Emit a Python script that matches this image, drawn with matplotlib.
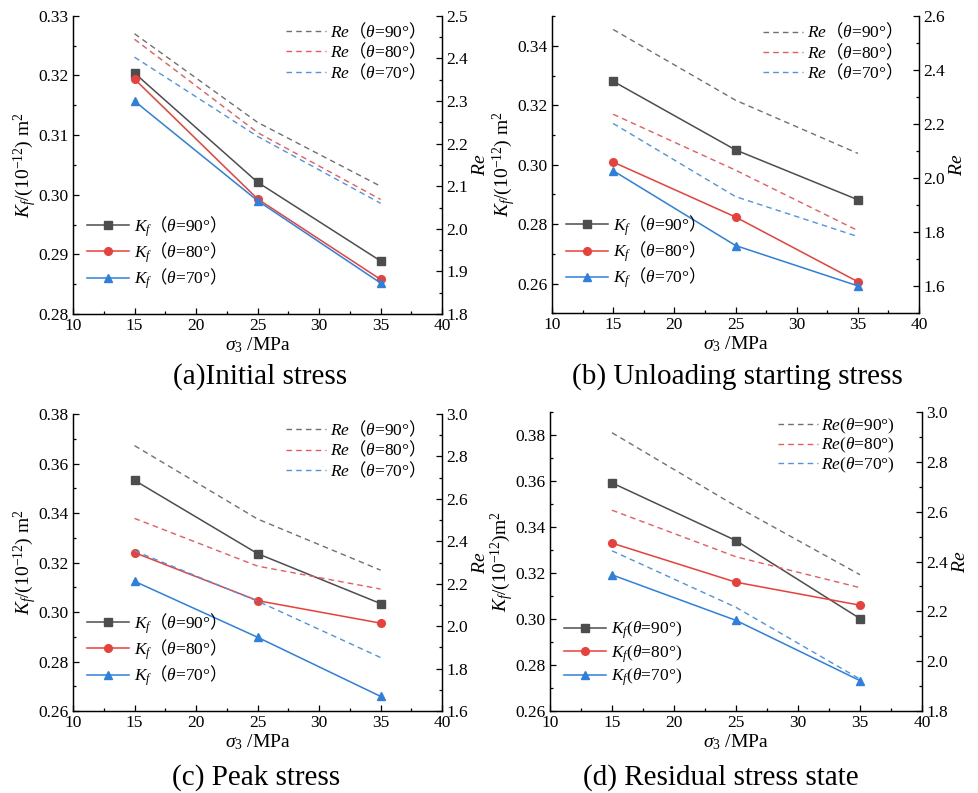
import matplotlib
matplotlib.use("Agg")
import matplotlib.pyplot as plt
from matplotlib.ticker import MultipleLocator, AutoMinorLocator, FormatStrFormatter

plt.rcParams['font.family'] = ['Liberation Serif', 'Noto Sans CJK SC']
plt.rcParams['mathtext.fontset'] = 'custom'
plt.rcParams['mathtext.rm'] = 'Liberation Serif'
plt.rcParams['mathtext.it'] = 'Liberation Serif:italic'
plt.rcParams['mathtext.sf'] = 'Noto Sans CJK SC'

# data: confining pressure and values for theta = 90, 80, 70 deg
sigma3 = [15, 25, 35]
angles = ['90', '80', '70']

kf_a = [[0.3204, 0.3021, 0.2889],
        [0.3194, 0.2993, 0.2858],
        [0.3157, 0.2990, 0.2852]]
re_a = [[2.458, 2.250, 2.100],
        [2.445, 2.226, 2.069],
        [2.403, 2.217, 2.060]]

kf_b = [[0.3281, 0.3050, 0.2882],
        [0.3009, 0.2824, 0.2606],
        [0.2980, 0.2728, 0.2592]]
re_b = [[2.551, 2.289, 2.092],
        [2.237, 2.030, 1.806],
        [2.203, 1.932, 1.784]]

kf_c = [[0.3532, 0.3236, 0.3034],
        [0.3240, 0.3046, 0.2955],
        [0.3124, 0.2898, 0.2659]]
re_c = [[2.851, 2.505, 2.264],
        [2.508, 2.283, 2.175],
        [2.355, 2.118, 1.852]]

kf_d = [[0.3592, 0.3341, 0.3002],
        [0.3330, 0.3160, 0.3060],
        [0.3192, 0.2994, 0.2732]]
re_d = [[2.917, 2.622, 2.347],
        [2.606, 2.419, 2.295],
        [2.443, 2.216, 1.928]]

titles = ['(a)Initial stress', '(b) Unloading starting stress',
          '(c) Peak stress', '(d) Residual stress state']

line_colors = ['#4d4d4d', '#e8403a', '#2f7fdc']
dash_colors = ['#707070', '#e65c5c', '#4f93e2']
markers = ['s', 'o', '^']


def style_axis(ax):
    ax.spines['top'].set_visible(False)
    ax.tick_params(which='both', direction='in', labelsize=12.5, top=False)
    ax.tick_params(which='major', length=4.5, width=0.9, pad=3)
    ax.tick_params(which='minor', length=2.5, width=0.9)
    ax.xaxis.set_minor_locator(AutoMinorLocator(2))
    ax.yaxis.set_minor_locator(AutoMinorLocator(2))
    for s in ax.spines.values():
        s.set_linewidth(0.9)


def panel(rect, kf, re, kf_lim, kf_step, re_lim, re_step, fullwidth=True):
    ax = fig.add_axes(rect)
    ax2 = ax.twinx()
    for i in range(3):
        if fullwidth:
            lab_k = r'$K_f\mathsf{（}\theta$=' + angles[i] + r'°$\mathsf{）}$'
            lab_r = r'$Re\mathsf{（}\theta$=' + angles[i] + r'°$\mathsf{）}$'
        else:
            lab_k = r'$K_f$($\theta$=' + angles[i] + '°)'
            lab_r = r'$Re$($\theta$=' + angles[i] + '°)'
        ax.plot(sigma3, kf[i], color=line_colors[i], marker=markers[i],
                markersize=5.5, linewidth=1.1, label=lab_k)
        ax2.plot(sigma3, re[i], color=dash_colors[i], linestyle=(0, (4, 3)),
                 linewidth=1.0, label=lab_r)

    ax.set_xlim(10, 40)
    ax.xaxis.set_major_locator(MultipleLocator(5))
    ax.set_ylim(*kf_lim)
    ax.yaxis.set_major_locator(MultipleLocator(kf_step))
    ax.yaxis.set_major_formatter(FormatStrFormatter('%.2f'))
    ax2.set_ylim(*re_lim)
    ax2.yaxis.set_major_locator(MultipleLocator(re_step))
    ax2.yaxis.set_major_formatter(FormatStrFormatter('%.1f'))
    style_axis(ax)
    style_axis(ax2)

    ax.set_xlabel(r'$\sigma_3$ /MPa', fontsize=14, labelpad=1)
    if fullwidth:
        ax.set_ylabel(r'$K_f/(10^{-12})\ \mathrm{m}^2$', fontsize=14, labelpad=0)
    else:
        ax.set_ylabel(r'$K_f/(10^{-12})\mathrm{m}^2$', fontsize=14, labelpad=0)
    ax2.set_ylabel(r'$Re$', fontsize=14, labelpad=3)

    ax.legend(loc='lower left', bbox_to_anchor=(0.0, 0.03), frameon=False,
              fontsize=12.5, handlelength=2.4, labelspacing=0.1,
              handletextpad=0.3, borderpad=0.3)
    ax2.legend(loc='upper right', bbox_to_anchor=(0.965, 1.03), frameon=False,
               fontsize=12.5, handlelength=2.3, labelspacing=0.0,
               handletextpad=0.2, borderpad=0.3)
    return ax


fig = plt.figure(figsize=(9.79, 7.93), dpi=100)

panel([0.0746, 0.604, 0.377, 0.376], kf_a, re_a, (0.28, 0.33), 0.01, (1.8, 2.5), 0.1)
panel([0.5638, 0.605, 0.375, 0.3745], kf_b, re_b, (0.25, 0.35), 0.02, (1.5, 2.6), 0.2)
panel([0.0746, 0.1034, 0.377, 0.3745], kf_c, re_c, (0.26, 0.38), 0.02, (1.6, 3.0), 0.2)
panel([0.5618, 0.1034, 0.380, 0.377], kf_d, re_d, (0.26, 0.39), 0.02, (1.8, 3.0), 0.2,
      fullwidth=False)

title_pos = [(0.266, 0.5246), (0.753, 0.5246), (0.262, 0.020), (0.736, 0.020)]
for (x, y), t in zip(title_pos, titles):
    fig.text(x, y, t, fontsize=21, ha='center', va='center')

fig.savefig('out.png', dpi=100)
